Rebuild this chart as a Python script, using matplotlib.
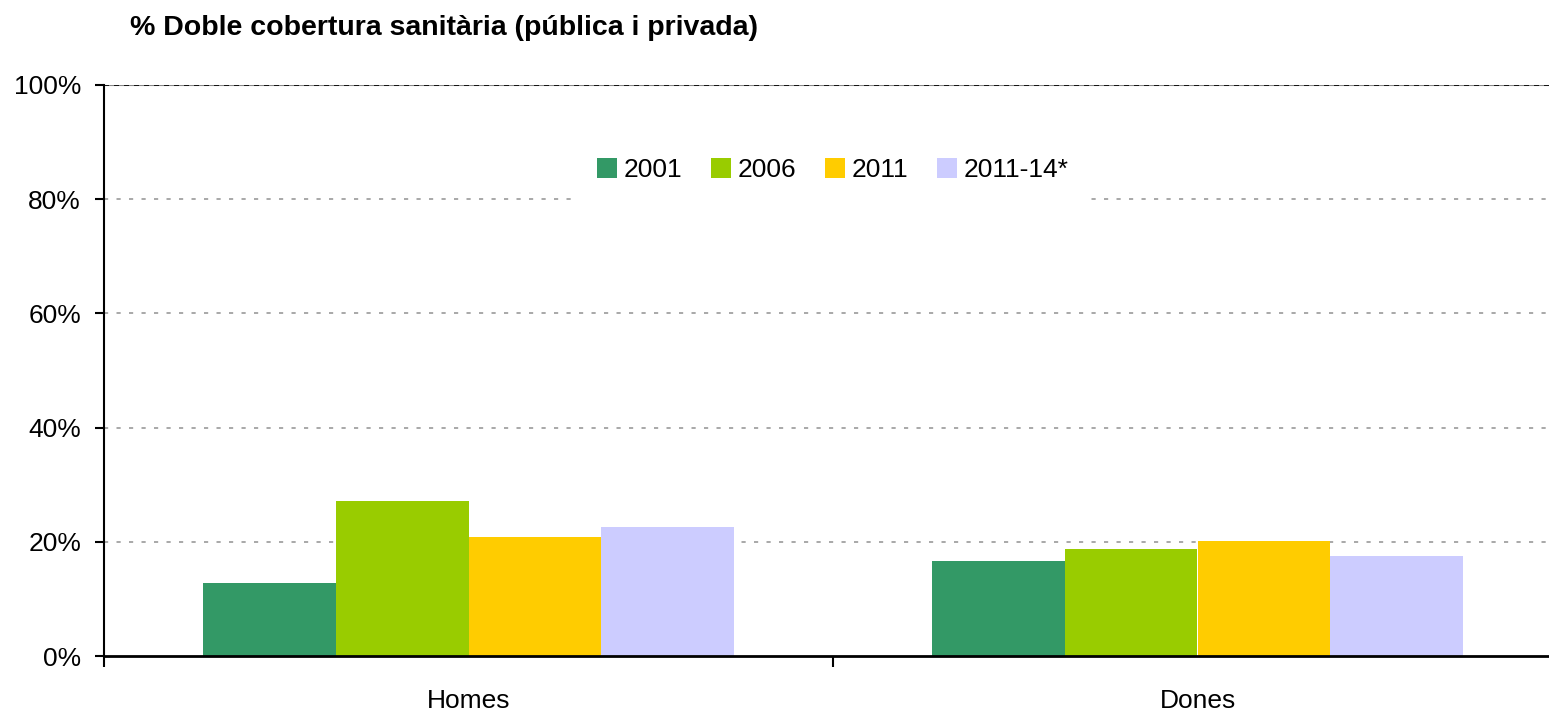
import matplotlib
matplotlib.use("Agg")
import matplotlib.pyplot as plt
import numpy as np
from matplotlib.ticker import FixedLocator, FuncFormatter

plt.rcParams['font.family'] = ['Liberation Sans', 'DejaVu Sans']

categories = ["Homes", "Dones"]
series = ["2001", "2006", "2011", "2011-14*"]
values_2001 = [12.8, 16.6]
values_2006 = [27.1, 18.7]
values_2011 = [20.8, 20.1]
values_2011_14 = [22.6, 17.6]
colors = ["#339966", "#99CC00", "#FFCC00", "#CCCCFF"]
yticks = [0, 20, 40, 60, 80, 100]
title = "% Doble cobertura sanitària (pública i privada)"

all_vals = [values_2001, values_2006, values_2011, values_2011_14]

fig = plt.figure(figsize=(15.49, 7.14), dpi=100)
ax = fig.add_axes([104/1549, 58/714, 1458/1549, 571/714])

x = np.arange(len(categories))
bw = 0.1818
for i, (vals, c, lab) in enumerate(zip(all_vals, colors, series)):
    ax.bar(x + (i - 1.5) * bw, vals, bw, color=c, label=lab, zorder=3, linewidth=0)

ax.set_xlim(-0.5, 1.5)
ax.set_ylim(0, 100)
ax.set_yticks(yticks)
ax.yaxis.set_major_formatter(FuncFormatter(lambda v, p: f"{int(v)}%"))
ax.tick_params(axis='y', direction='out', length=6.5, width=1.5, labelsize=19, pad=10, colors='black')

ax.xaxis.set_major_locator(FixedLocator([-0.5, 0.5, 1.5]))
ax.xaxis.set_major_formatter(FuncFormatter(lambda v, p: ""))
ax.xaxis.set_minor_locator(FixedLocator(list(x)))
ax.set_xticklabels(categories, minor=True)
ax.tick_params(axis='x', which='major', direction='out', length=8, width=1.5)
ax.tick_params(axis='x', which='minor', length=0, labelsize=19, pad=24)

for y in yticks[1:-1]:
    ax.axhline(y, color='#999999', linestyle=(0, (2.5, 5)), linewidth=1.2, zorder=1)
ax.axhline(100, color='#888888', linewidth=1.5, zorder=2)
ax.axhline(100, color='black', linestyle=(0, (3, 3)), linewidth=1.2, zorder=2)

for s in ['top', 'right']:
    ax.spines[s].set_visible(False)
ax.spines['left'].set_linewidth(1.5)
ax.spines['bottom'].set_linewidth(2)
ax.spines['bottom'].set_zorder(4)

leg = ax.legend(loc='center', bbox_to_anchor=(0.5045 * 1444/1458, 0.851), ncol=4, frameon=True,
                fontsize=19, handlelength=0.75, handleheight=0.75, handletextpad=0.25,
                columnspacing=1.1, borderpad=0.8, fancybox=False)
leg.get_frame().set_edgecolor('white')
leg.get_frame().set_facecolor('white')
leg.get_frame().set_alpha(1)
leg.set_zorder(5)

fig.text(130/1549, 1 - 28/714, title, fontsize=20.5, fontweight='bold', va='center', ha='left')

fig.savefig("out.png", dpi=100)
